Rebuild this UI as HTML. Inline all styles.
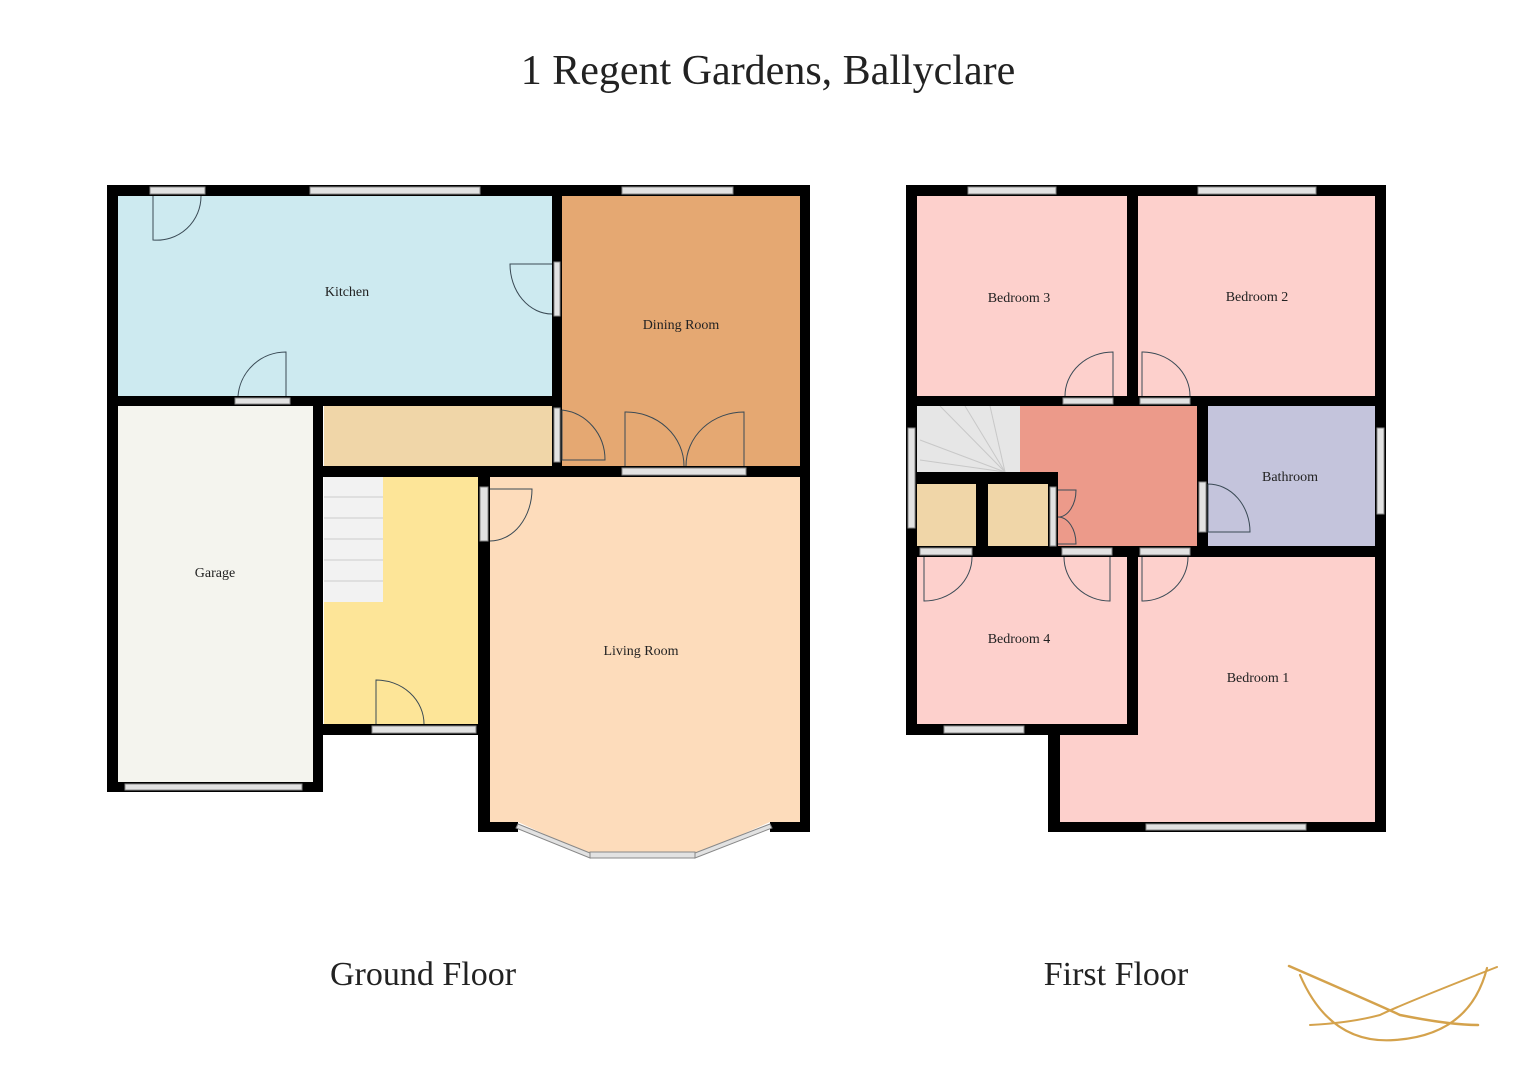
<!DOCTYPE html>
<html><head><meta charset="utf-8"><style>
html,body{margin:0;padding:0;background:#fff;}
svg{display:block;}
text{font-family:"Liberation Serif",serif;fill:#222;}
</style></head><body>
<svg width="1527" height="1080" viewBox="0 0 1527 1080" xmlns="http://www.w3.org/2000/svg">
<text x="768" y="84" font-size="42" text-anchor="middle">1 Regent Gardens, Ballyclare</text>
<!-- GROUND FLOOR fills -->
<rect x="118" y="196" width="434" height="200" fill="#cdeaf0"/>
<rect x="562" y="196" width="238" height="270" fill="#e5a872"/>
<rect x="324" y="406" width="228" height="60" fill="#f0d6a8"/>
<rect x="118" y="406" width="195" height="376" fill="#f4f4ee"/>
<rect x="324" y="477" width="154" height="247" fill="#fde598"/>
<rect x="324" y="477" width="59" height="125" fill="#f2f2f2"/>
<g stroke="#ccc" stroke-width="1">
<line x1="324" y1="497" x2="383" y2="497"/><line x1="324" y1="518" x2="383" y2="518"/><line x1="324" y1="539" x2="383" y2="539"/><line x1="324" y1="560" x2="383" y2="560"/><line x1="324" y1="581" x2="383" y2="581"/></g>
<polygon points="490,477 800,477 800,822 770,822 695,855 590,855 518,822 490,822" fill="#fddcbb"/>
<!-- walls -->
<g fill="#000">
<rect x="107" y="185" width="703" height="11"/>
<rect x="107" y="185" width="11" height="607"/>
<rect x="107" y="782" width="216" height="10"/>
<rect x="313" y="396" width="10" height="396"/>
<rect x="107" y="396" width="455" height="10"/>
<rect x="552" y="185" width="10" height="292"/>
<rect x="313" y="466" width="497" height="11"/>
<rect x="313" y="724" width="177" height="11"/>
<rect x="478" y="466" width="12" height="366"/>
<rect x="478" y="822" width="40" height="10"/>
<rect x="770" y="822" width="40" height="10"/>
<rect x="800" y="185" width="10" height="647"/>
</g>
<!-- windows/door frames -->
<g fill="#e2e2e2" stroke="#888" stroke-width="1">
<rect x="150" y="187" width="55" height="7"/>
<rect x="310" y="187" width="170" height="7"/>
<rect x="622" y="187" width="111" height="7"/>
<rect x="125" y="784" width="177" height="6"/>
<rect x="372" y="726" width="104" height="7"/>
<rect x="235" y="398" width="55" height="6"/>
<rect x="622" y="468" width="124" height="7"/>
<rect x="554" y="408" width="6" height="54"/>
<rect x="554" y="262" width="6" height="54"/>
<rect x="480" y="487" width="8" height="54"/>
<polygon points="518,824 590,853 590,858 516,828" />
<rect x="590" y="852" width="105" height="6"/>
<polygon points="695,853 770,824 772,828 695,858"/>
</g>
<g fill="none" stroke="#3a4a55" stroke-width="1">
<path d="M153 196 L153 240 A44 44 0 0 0 201 196"/>
<path d="M286 396 L286 352 A48 48 0 0 0 238 396"/>
<path d="M552 264 L510 264 A42 50 0 0 0 552 314"/>
<path d="M562 410 L562 460 L605 460 A48 50 0 0 0 562 410"/>
<path d="M625 466 L625 412 A58 54 0 0 1 684 466"/>
<path d="M744 466 L744 412 A58 54 0 0 0 686 466"/>
<path d="M490 489 L532 489 A42 52 0 0 1 490 541"/>
<path d="M376 724 L376 680 A48 44 0 0 1 424 724"/>
</g>
<g font-size="14" text-anchor="middle">
<text x="347" y="296">Kitchen</text>
<text x="681" y="329">Dining Room</text>
<text x="215" y="577">Garage</text>
<text x="641" y="655">Living Room</text>
</g>
<!-- FIRST FLOOR fills -->
<rect x="917" y="196" width="210" height="200" fill="#fdd0cc"/>
<rect x="1138" y="196" width="237" height="200" fill="#fdd0cc"/>
<rect x="1020" y="406" width="177" height="140" fill="#ec9a8a"/>
<rect x="917" y="406" width="103" height="66" fill="#e6e6e6"/>
<g stroke="#c8c8c8" stroke-width="1">
<line x1="1005" y1="472" x2="940" y2="406"/><line x1="1005" y1="472" x2="965" y2="406"/><line x1="1005" y1="472" x2="990" y2="406"/><line x1="1005" y1="472" x2="920" y2="440"/><line x1="1005" y1="472" x2="920" y2="460"/></g>
<rect x="917" y="484" width="59" height="62" fill="#f0d6a8"/>
<rect x="988" y="484" width="60" height="62" fill="#f0d6a8"/>
<rect x="1208" y="406" width="167" height="140" fill="#c4c4dc"/>
<rect x="917" y="557" width="210" height="167" fill="#fdd0cc"/>
<rect x="1138" y="557" width="237" height="265" fill="#fdd0cc"/>
<rect x="1060" y="735" width="78" height="87" fill="#fdd0cc"/>
<g fill="#000">
<rect x="906" y="185" width="480" height="11"/>
<rect x="906" y="185" width="11" height="550"/>
<rect x="1375" y="185" width="11" height="647"/>
<rect x="1127" y="185" width="11" height="221"/>
<rect x="906" y="396" width="480" height="10"/>
<rect x="1197" y="396" width="11" height="161"/>
<rect x="1197" y="546" width="189" height="11"/>
<rect x="906" y="546" width="302" height="11"/>
<rect x="906" y="472" width="152" height="12"/>
<rect x="976" y="472" width="12" height="85"/>
<rect x="1048" y="472" width="10" height="85"/>
<rect x="1127" y="546" width="11" height="189"/>
<rect x="906" y="724" width="232" height="11"/>
<rect x="1048" y="724" width="12" height="108"/>
<rect x="1048" y="822" width="338" height="10"/>
</g>
<g fill="#e2e2e2" stroke="#888" stroke-width="1">
<rect x="968" y="187" width="88" height="7"/>
<rect x="1198" y="187" width="118" height="7"/>
<rect x="1377" y="428" width="7" height="86"/>
<rect x="908" y="428" width="7" height="100"/>
<rect x="1146" y="824" width="160" height="6"/>
<rect x="944" y="726" width="80" height="7"/>
<rect x="1063" y="398" width="50" height="6"/>
<rect x="1140" y="398" width="50" height="6"/>
<rect x="1199" y="482" width="7" height="50"/>
<rect x="920" y="548" width="52" height="7"/>
<rect x="1062" y="548" width="50" height="7"/>
<rect x="1140" y="548" width="50" height="7"/>
<rect x="1050" y="487" width="6" height="59"/>
</g>
<g fill="none" stroke="#3a4a55" stroke-width="1">
<path d="M1113 396 L1113 352 A48 44 0 0 0 1065 396"/>
<path d="M1142 396 L1142 352 A48 44 0 0 1 1190 396"/>
<path d="M1208 484 L1208 532 L1250 532 A42 48 0 0 0 1208 484"/>
<path d="M924 557 L924 601 A48 44 0 0 0 972 557"/>
<path d="M1110 557 L1110 601 A46 44 0 0 1 1064 557"/>
<path d="M1142 557 L1142 601 A46 44 0 0 0 1188 557"/>
<path d="M1058 490 L1076 490 A18 27 0 0 1 1058 517 A18 27 0 0 1 1076 544 L1058 544"/>
</g>
<g font-size="14" text-anchor="middle">
<text x="1019" y="302">Bedroom 3</text>
<text x="1257" y="301">Bedroom 2</text>
<text x="1290" y="481">Bathroom</text>
<text x="1019" y="643">Bedroom 4</text>
<text x="1258" y="682">Bedroom 1</text>
</g>
<text x="423" y="985" font-size="34" text-anchor="middle">Ground Floor</text>
<text x="1116" y="985" font-size="34" text-anchor="middle">First Floor</text>
<g fill="none" stroke="#d4a24c" stroke-linecap="round">
<path d="M1289 966 Q1390 1010 1400 1015 Q1450 1025 1478 1025" stroke-width="2.5"/>
<path d="M1497 967 Q1400 1005 1380 1015 Q1350 1023 1310 1025" stroke-width="2"/>
<path d="M1300 975 Q1330 1045 1395 1040 Q1470 1035 1487 968" stroke-width="2.2"/>
</g>
</svg>
</body></html>
